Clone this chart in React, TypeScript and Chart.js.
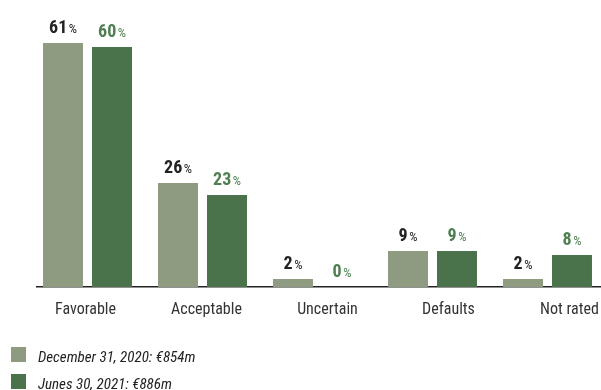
import React, { useEffect, useRef } from "react";
import { Chart, registerables } from "chart.js";

Chart.register(...registerables);

const categories = ["Favorable", "Acceptable", "Uncertain", "Defaults", "Not rated"];
const dec2020 = [61, 26, 2, 9, 2];
const jun2021 = [60, 23, 0, 9, 8];
const seriesLabels = ["December 31, 2020: €854m", "Junes 30, 2021: €886m"];
const barColors = ["#8e9b80", "#4a724b"];
const valueColors = ["#222222", "#4f7f52"];

const FAMILY = '"Roboto", "Open Sans", "DejaVu Sans", sans-serif';

const valueLabelPlugin = {
  id: "valueLabels",
  afterDatasetsDraw(chart: any) {
    const ctx = chart.ctx;
    ctx.save();
    chart.data.datasets.forEach((ds: any, di: number) => {
      const meta = chart.getDatasetMeta(di);
      meta.data.forEach((bar: any, i: number) => {
        const v = ds.data[i].y;
        const num = String(v);
        const numFont = `bold condensed 18px ${FAMILY}`;
        const pctFont = `condensed 13px ${FAMILY}`;
        ctx.font = numFont;
        const wn = ctx.measureText(num).width;
        ctx.font = pctFont;
        const wp = ctx.measureText("%").width;
        const gap = 1.5;
        const total = wn + gap + wp;
        const x0 = bar.x - total / 2;
        const y = bar.y - 10;
        ctx.fillStyle = valueColors[di];
        ctx.textBaseline = "alphabetic";
        ctx.textAlign = "left";
        ctx.font = numFont;
        ctx.fillText(num, x0, y);
        ctx.font = pctFont;
        ctx.fillText("%", x0 + wn + gap, y);
      });
    });
    ctx.restore();
  },
};

const legendPlugin = {
  id: "customLegend",
  afterDraw(chart: any) {
    const ctx = chart.ctx;
    ctx.save();
    chart.data.datasets.forEach((ds: any, di: number) => {
      const top = 347 + di * 27;
      ctx.fillStyle = ds.backgroundColor;
      ctx.fillRect(11, top, 15, 15);
      ctx.fillStyle = "#222222";
      ctx.font = `italic condensed 15px ${FAMILY}`;
      ctx.textBaseline = "alphabetic";
      ctx.textAlign = "left";
      ctx.fillText(ds.label, 38, top + 15);
    });
    ctx.restore();
  },
};

const integerTicks = (scale: any) => {
  scale.ticks = categories.map((_, i) => ({ value: i }));
};

export default function App() {
  const ref = useRef<HTMLCanvasElement>(null);
  useEffect(() => {
    if (!ref.current) return;
    const chart = new Chart(ref.current, {
      type: "bar",
      data: {
        datasets: [dec2020, jun2021].map((arr, di) => ({
          label: seriesLabels[di],
          data: arr.map((v, i) => ({ x: i, y: v })),
          backgroundColor: barColors[di],
          borderWidth: 0,
          categoryPercentage: 0.852,
          barPercentage: 0.816,
          xAxisID: "x",
          yAxisID: "y",
        })),
      },
      plugins: [valueLabelPlugin, legendPlugin],
      options: {
        animation: false,
        responsive: false,
        layout: { padding: { left: 37, right: 0, top: 0, bottom: 0 } },
        plugins: { legend: { display: false }, tooltip: { enabled: false } },
        scales: {
          x: {
            type: "linear",
            display: false,
            bounds: "data",
            offset: false,
            min: -0.4391,
            max: 4.4652,
            afterBuildTicks: integerTicks,
          },
          x2: {
            type: "linear",
            position: "bottom",
            bounds: "data",
            offset: false,
            min: -0.4008,
            max: 4.2604,
            afterBuildTicks: integerTicks,
            afterFit: (scale: any) => {
              scale.height = 103;
              scale.paddingLeft = 0;
              scale.paddingRight = 0;
            },
            grid: { display: false, drawTicks: false },
            border: { display: true, color: "#222222", width: 1.5 },
            ticks: {
              autoSkip: false,
              maxRotation: 0,
              minRotation: 0,
              padding: 13,
              color: "#333333",
              font: { family: FAMILY, size: 16, weight: "condensed" },
              callback: (v: any) => {
                const idx = Math.round(Number(v));
                return categories[idx] !== undefined ? categories[idx] : "";
              },
            },
          },
          y: {
            display: false,
            min: 0,
            max: 71.75,
          },
        },
      },
    } as any);
    return () => chart.destroy();
  }, []);
  return (
    <div style={{ position: "absolute", left: 0, top: 0, width: 601, height: 390, background: "#fff" }}>
      <canvas ref={ref} width={601} height={390} style={{ display: "block" }} />
    </div>
  );
}
